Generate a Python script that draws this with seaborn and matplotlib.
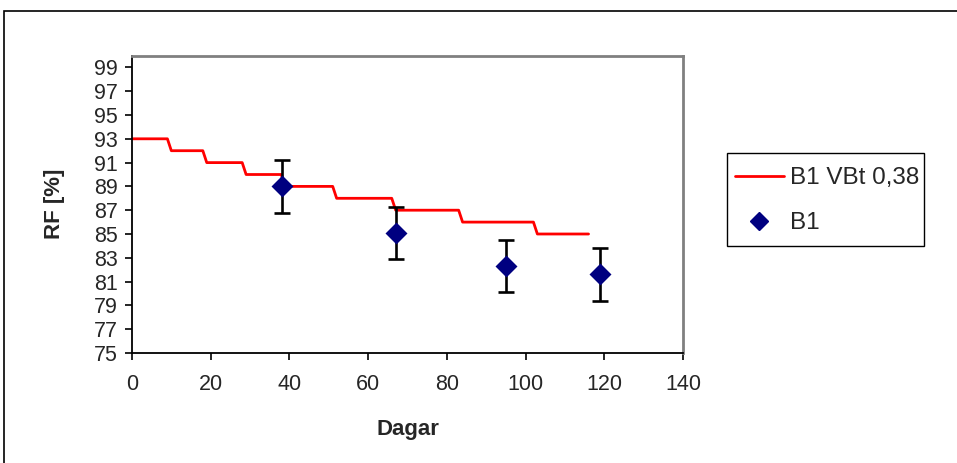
import matplotlib
matplotlib.use("Agg")
import matplotlib.pyplot as plt
from matplotlib.patches import Rectangle
from matplotlib.lines import Line2D
import seaborn as sns
import pandas as pd

# Modelled RF for B1 (VBt 0,38): stepwise decline, each step ramps over about one day
model_days = [0, 9, 10, 18, 19, 28, 29, 38, 38.5, 51, 52, 66, 67, 83, 84, 102, 103, 116]
model_rf = [93, 93, 92, 92, 91, 91, 90, 90, 89, 89, 88, 88, 87, 87, 86, 86, 85, 85]

# Measured RF for B1 with error margins
meas_days = [38, 67, 95, 119]
meas_rf = [89.0, 85.1, 82.3, 81.6]
meas_err = [2.2, 2.2, 2.2, 2.2]

x_ticks = [0, 20, 40, 60, 80, 100, 120, 140]
y_ticks = list(range(75, 100, 2))

model_df = pd.DataFrame({"Dagar": model_days, "RF": model_rf})
meas_df = pd.DataFrame({"Dagar": meas_days, "RF": meas_rf, "err": meas_err})

sns.set_theme(style="white")
plt.rcParams["font.family"] = ["Liberation Sans", "DejaVu Sans"]

fig = plt.figure(figsize=(9.57, 4.63), dpi=100)
ax = fig.add_axes([0.1379, 0.2376, 0.5758, 0.6425])

sns.lineplot(data=model_df, x="Dagar", y="RF", ax=ax, color="#ff0000",
             linewidth=2.0, sort=False, estimator=None, legend=False)
ax.errorbar(meas_df["Dagar"], meas_df["RF"], yerr=meas_df["err"], fmt="none",
            ecolor="black", elinewidth=1.9, capsize=5.5, capthick=1.9, zorder=3)
sns.scatterplot(data=meas_df, x="Dagar", y="RF", ax=ax, marker="D", s=125,
                color="#000080", edgecolor="#000080", linewidth=0, zorder=4,
                legend=False)

ax.set_xlim(0, 140)
ax.set_ylim(75, 100)
ax.set_xticks(x_ticks)
ax.set_yticks(y_ticks)
ax.tick_params(axis="both", direction="out", length=5, width=1.2, color="black",
               labelsize=15.5, left=True, bottom=True)
ax.tick_params(axis="y", pad=5)
ax.tick_params(axis="x", pad=10)

for side in ("top", "right"):
    ax.spines[side].set_color("#808080")
    ax.spines[side].set_linewidth(2.0)
for side in ("left", "bottom"):
    ax.spines[side].set_color("black")
    ax.spines[side].set_linewidth(1.3)

ax.set_xlabel("Dagar", fontsize=16, fontweight="bold", labelpad=17.5)
ax.set_ylabel("RF [%]", fontsize=16, fontweight="bold", labelpad=21)

# legend box drawn as a separate frame, entries placed inside it
fig.add_artist(Rectangle((727 / 957, 1 - 246 / 463), 197 / 957, 93 / 463,
                         transform=fig.transFigure, fill=True, facecolor="white",
                         edgecolor="black", linewidth=1.0, zorder=5))
handles = [
    Line2D([], [], color="#ff0000", linewidth=2.0),
    Line2D([], [], color="#000080", marker="D", linestyle="none", markersize=9),
]
leg = fig.legend(handles, ["B1 VBt 0,38", "B1"], loc="upper left",
                 bbox_to_anchor=(735 / 957, 1 - 167 / 463),
                 bbox_transform=fig.transFigure,
                 fontsize=17.5, frameon=False, borderpad=0,
                 labelspacing=0.95, handlelength=2.0,
                 handletextpad=0.25, borderaxespad=0)
leg.set_zorder(6)

# outer chart frame
fig.add_artist(Rectangle((4 / 957, -0.1), 1.1, 1 - 11 / 463 + 0.1,
                         transform=fig.transFigure, fill=False,
                         edgecolor="black", linewidth=1.2))

fig.savefig("out.png", dpi=100)
